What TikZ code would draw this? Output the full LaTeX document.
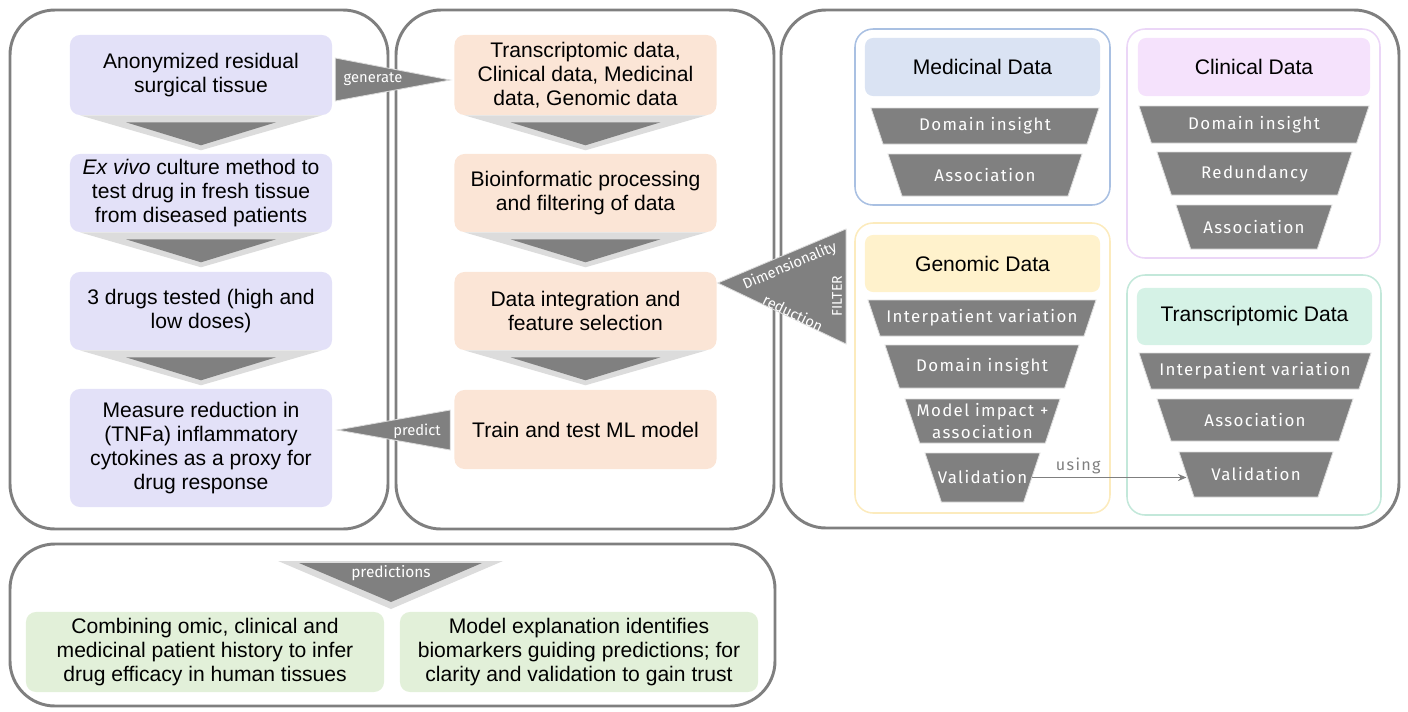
\documentclass[tikz,border=0pt]{standalone}
\usepackage{fontspec}
\setmainfont{Liberation Sans}
\newfontfamily\handfont[LetterSpace=8]{Fira Sans}
\newfontfamily\handtight{Fira Sans}
\usetikzlibrary{positioning, arrows.meta, calc}

\definecolor{panelgray}{HTML}{7F7F7F}
\definecolor{darkfill}{HTML}{808080}
\definecolor{lightfill}{HTML}{DCDCDC}
\definecolor{lavfill}{HTML}{E3E1F8}
\definecolor{peachfill}{HTML}{FBE5D6}
\definecolor{greenfill}{HTML}{E2F0D9}
\definecolor{medfill}{HTML}{DAE3F3}
\definecolor{medline}{HTML}{A9C0E2}
\definecolor{clinfill}{HTML}{F5E2FC}
\definecolor{clinline}{HTML}{EBD6F7}
\definecolor{genfill}{HTML}{FFF2CC}
\definecolor{genline}{HTML}{FCEBBD}
\definecolor{tranfill}{HTML}{D5F2E6}
\definecolor{tranline}{HTML}{C3E8DA}

% downward chevron below a box
\newcommand{\flowchev}[1]{%
  \fill[lightfill] ($(#1.south west)+(10,0)$) -- ($(#1.south east)+(-10,0)$) -- ($(#1.south)+(0,35)$) -- cycle;
  \fill[darkfill] ($(#1.south)+(-75,7)$) -- ($(#1.south)+(75,7)$) -- ($(#1.south)+(0,30)$) -- cycle;
}

% funnel step: name, centre x, top y, height, top width, text
\newcommand{\funnelstep}[6]{%
  \fill[darkfill, draw=lightfill, line width=0.6pt] ({#2-#5/2},#3) -- ({#2+#5/2},#3) -- ({#2+#5/2-#4/3},{#3+#4}) -- ({#2-#5/2+#4/3},{#3+#4}) -- cycle;
  \node[steptext] (#1) at (#2,{#3+#4/2}) {#6};
  \coordinate (#1-w) at ({#2-#5/2+#4/6},{#3+#4/2});
  \coordinate (#1-e) at ({#2+#5/2-#4/6},{#3+#4/2});
}

\begin{document}
\begin{tikzpicture}[
    x=0.025cm, y=-0.025cm,
    panel/.style={draw=panelgray, line width=2.1pt, rounded corners=1.125cm},
    group/.style={line width=1.1pt, rounded corners=0.45cm},
    box/.style={rounded corners=0.25cm, inner sep=0pt, align=center, font=\fontsize{15}{17}\selectfont, minimum width=6.55cm},
    header/.style={rounded corners=0.2cm, inner sep=0pt, font=\fontsize{15}{17}\selectfont},
    steptext/.style={text=white, align=center, inner sep=0pt, font=\handfont\fontsize{12}{15}\selectfont},
    labeltext/.style={text=white, inner sep=0pt, font=\handtight\fontsize{10.5}{12}\selectfont},
    tri/.style={fill=darkfill, draw=lightfill, line width=0.6pt},
    using/.style={-{Stealth[length=6pt,width=5pt]}, draw=panelgray, line width=1pt}
]
    \useasboundingbox (0,0) rectangle (1408,711);

    % panels
    \draw[panel] (10,10) rectangle (388,529);
    \draw[panel] (396,10) rectangle (774,529);
    \draw[panel] (781,10) rectangle (1399,528);
    \draw[panel] (10,544) rectangle (775,706);

    % experiment column
    \node[box, fill=lavfill, minimum height=2cm] (tissue) at (201,75) {Anonymized residual\\surgical tissue};
    \node[box, fill=lavfill, minimum height=1.95cm] (exvivo) at (201,193) {\textit{Ex vivo} culture method to\\test drug in fresh tissue\\from diseased patients};
    \node[box, fill=lavfill, minimum height=1.95cm] (drugs) at (201,311) {3 drugs tested (high and\\low doses)};
    \node[box, fill=lavfill, minimum height=2.95cm] (measure) at (201,448) {Measure reduction in\\(TNFa) inflammatory\\cytokines as a proxy for\\drug response};
    \flowchev{tissue}
    \flowchev{exvivo}
    \flowchev{drugs}

    % data column
    \node[box, fill=peachfill, minimum height=2cm] (rawdata) at (585.5,75) {Transcriptomic data,\\Clinical data, Medicinal\\data, Genomic data};
    \node[box, fill=peachfill, minimum height=1.95cm] (bioinf) at (585.5,193) {Bioinformatic processing\\and filtering of data};
    \node[box, fill=peachfill, minimum height=1.95cm] (integr) at (585.5,311) {Data integration and\\feature selection};
    \node[box, fill=peachfill, minimum height=1.975cm] (mlmodel) at (585.5,429.5) {Train and test ML model};
    \flowchev{rawdata}
    \flowchev{bioinf}
    \flowchev{integr}

    % links between columns
    \path[tri] ($(tissue.east)+(3,-17)$) -- ($(tissue.east)+(3,26)$) -- ($(rawdata.west)+(-4,5)$) -- cycle;
    \node[labeltext] (generate) at (373,79) {generate};
    \path[tri] ($(measure.east)+(5,-18)$) -- ($(mlmodel.west)+(-4,-19.5)$) -- ($(mlmodel.west)+(-4,20.5)$) -- cycle;
    \node[labeltext] (predict) at (417,431) {predict};
    \path[tri] ($(integr.east)+(1,-28)$) -- (846,229) -- (846,344) -- cycle;
    \node[labeltext, rotate=22.9] (dimred) at (790,266) {Dimensionality};
    \node[labeltext, rotate=-26] (reduct) at (793,313) {reduction};
    \node[labeltext, rotate=90, font=\handtight\fontsize{10}{12}\selectfont] (filter) at (837,296) {FILTER};

    % data groups
    \draw[group, draw=medline] (855,29) rectangle (1110,205);
    \draw[group, draw=clinline] (1127,29) rectangle (1380,258);
    \draw[group, draw=genline] (855,223) rectangle (1110,513);
    \draw[group, draw=tranline] (1127,275) rectangle (1381,515);

    \node[header, fill=medfill, minimum width=5.875cm, minimum height=1.45cm] (medhead) at (982.5,67) {Medicinal Data};
    \node[header, fill=clinfill, minimum width=5.8cm, minimum height=1.45cm] (clinhead) at (1254,67) {Clinical Data};
    \node[header, fill=genfill, minimum width=5.875cm, minimum height=1.425cm] (genhead) at (982.5,263.5) {Genomic Data};
    \node[header, fill=tranfill, minimum width=5.875cm, minimum height=1.425cm] (tranhead) at (1254.5,316.5) {Transcriptomic Data};

    \funnelstep{meddom}{985}{108}{36}{228}{Domain insight}
    \funnelstep{medassoc}{985}{154}{42}{194}{Association}
    \funnelstep{clindom}{1254}{106}{37}{230}{Domain insight}
    \funnelstep{clinred}{1254.5}{152}{43}{195}{Redundancy}
    \funnelstep{clinassoc}{1254}{205}{44}{156}{Association}
    \funnelstep{genvar}{982}{300}{36}{228}{Interpatient variation}
    \funnelstep{gendom}{982}{345}{43}{194}{Domain insight}
    \funnelstep{genmodel}{982.5}{399}{44}{155}{Model impact +\\association}
    \funnelstep{genval}{982.5}{453}{49}{115}{Validation}
    \funnelstep{tranvar}{1255}{353}{36}{232}{Interpatient variation}
    \funnelstep{tranassoc}{1255}{399}{42}{196}{Association}
    \funnelstep{tranval}{1256}{452}{45}{154}{Validation}

    \draw[using] (genval-e) -- node[above, pos=0.3, inner sep=2pt, text=panelgray, font=\handfont\fontsize{11.5}{13}\selectfont] (usinglabel) {using} (genval-e -| tranval-w);

    % outcomes
    \fill[lightfill] (278,561) -- (503,561) -- (391,609) -- cycle;
    \fill[darkfill] (299,563) -- (482,563) -- (391,602) -- cycle;
    \node[labeltext, font=\handtight\fontsize{11}{13}\selectfont] (predictions) at (391,573) {predictions};
    \node[box, fill=greenfill, minimum width=8.95cm, minimum height=2cm] (combine) at (205,652) {Combining omic, clinical and\\medicinal patient history to infer\\drug efficacy in human tissues};
    \node[box, fill=greenfill, minimum width=8.95cm, minimum height=2cm] (explain) at (579,652) {Model explanation identifies\\biomarkers guiding predictions; for\\clarity and validation to gain trust};
\end{tikzpicture}
\end{document}
